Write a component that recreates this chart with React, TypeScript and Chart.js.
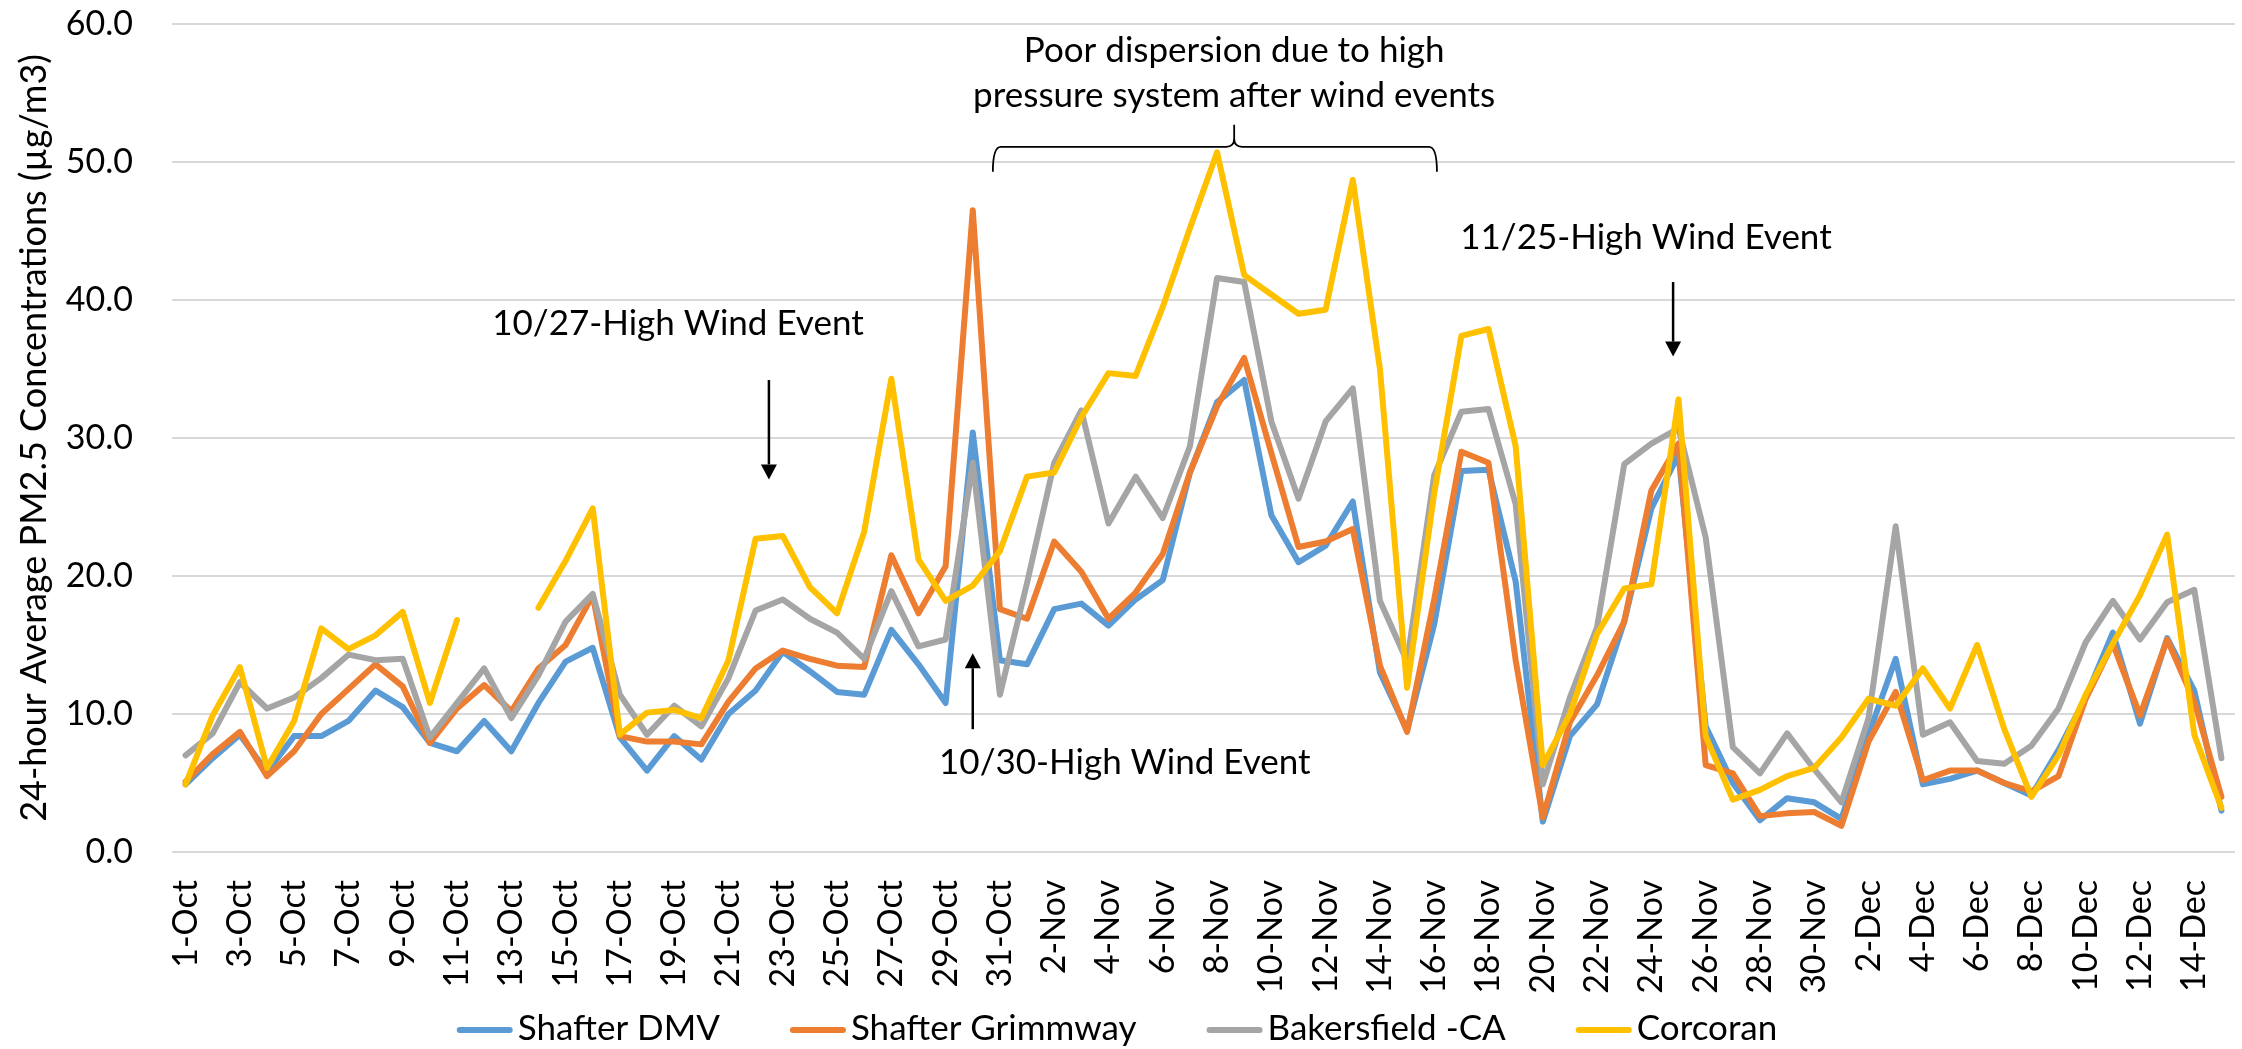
import React, { useEffect, useRef } from 'react';
import { Chart, registerables } from 'chart.js';

Chart.register(...registerables);

// ---- Categories (daily, 1-Oct .. 15-Dec) ----
const MONTHS: [string, number][] = [['Oct', 31], ['Nov', 30], ['Dec', 15]];
const DATES: string[] = MONTHS.flatMap(([m, n]) => Array.from({ length: n }, (_, i) => `${i + 1}-${m}`));

// ---- Series values (µg/m3) ----
const SHAFTER_DMV = [
  4.9, 6.8, 8.5, 5.8, 8.4, 8.4, 9.5, 11.7, 10.5, 7.9, 7.3, 9.5, 7.3, 10.8, 13.8, 14.8,
  8.3, 5.9, 8.4, 6.7, 10.0, 11.7, 14.5, 13.1, 11.6, 11.4, 16.1, 13.6, 10.8, 30.4, 13.9,
  13.6, 17.6, 18.0, 16.4, 18.3, 19.7, 27.5, 32.6, 34.2, 24.4, 21.0, 22.2, 25.4, 13.0, 8.8,
  16.5, 27.6, 27.7, 19.6, 2.2, 8.4, 10.7, 16.7, 24.9, 28.8, 9.1, 5.0, 2.3, 3.9, 3.6,
  2.4, 8.5, 14.0, 4.9, 5.3, 5.9, 5.0, 4.1, 7.4, 11.2, 15.9, 9.3, 15.5, 11.7, 3.0,
];
const SHAFTER_GRIMMWAY = [
  5.1, 7.1, 8.7, 5.5, 7.3, 10.0, 11.8, 13.6, 12.0, 7.9, 10.4, 12.1, 10.2, 13.3, 15.0, 18.6,
  8.4, 8.0, 8.0, 7.8, 10.9, 13.3, 14.6, 14.0, 13.5, 13.4, 21.5, 17.3, 20.7, 46.5, 17.6,
  16.9, 22.5, 20.3, 16.9, 18.8, 21.6, 27.5, 32.3, 35.8, 28.9, 22.1, 22.5, 23.4, 13.5, 8.7,
  18.3, 29.0, 28.2, 13.9, 2.5, 9.4, 12.8, 16.7, 26.2, 29.6, 6.3, 5.7, 2.6, 2.8, 2.9,
  1.9, 8.0, 11.6, 5.2, 5.9, 5.9, 5.0, 4.4, 5.5, 11.1, 15.1, 9.9, 15.4, 10.9, 4.0,
];
const BAKERSFIELD_CA = [
  7.0, 8.6, 12.3, 10.4, 11.2, 12.6, 14.3, 13.9, 14.0, 8.3, 10.8, 13.3, 9.7, 12.8, 16.7, 18.7,
  11.4, 8.5, 10.6, 9.1, 12.6, 17.5, 18.3, 16.9, 15.9, 14.0, 18.9, 14.9, 15.4, 28.2, 11.4,
  19.5, 28.2, 32.0, 23.8, 27.2, 24.2, 29.4, 41.6, 41.3, 31.2, 25.6, 31.2, 33.6, 18.2, 13.8,
  27.3, 31.9, 32.1, 25.2, 4.9, 11.2, 16.3, 28.1, 29.6, 30.7, 22.8, 7.6, 5.7, 8.6, 6.0,
  3.6, 9.7, 23.6, 8.5, 9.4, 6.6, 6.4, 7.7, 10.4, 15.2, 18.2, 15.4, 18.1, 19.0, 6.8,
];
const CORCORAN: (number | null)[] = [
  4.9, 9.9, 13.4, 6.1, 9.5, 16.2, 14.7, 15.7, 17.4, 10.8, 16.8, null, null, 17.7, 21.1, 24.9,
  8.5, 10.1, 10.3, 9.7, 13.9, 22.7, 22.9, 19.2, 17.3, 23.2, 34.3, 21.2, 18.2, 19.3, 21.8,
  27.2, 27.5, 31.5, 34.7, 34.5, 39.5, 45.2, 50.7, 41.8, 40.4, 39.0, 39.3, 48.7, 35.0, 11.9,
  26.0, 37.4, 37.9, 29.4, 6.3, 10.0, 15.8, 19.1, 19.4, 32.8, 8.4, 3.8, 4.5, 5.5, 6.1,
  8.3, 11.1, 10.6, 13.3, 10.4, 15.0, 8.9, 4.0, 7.0, 11.4, 15.1, 18.6, 23.0, 8.5, 3.2,
];

const SERIES_NAMES = ['Shafter DMV', 'Shafter Grimmway', 'Bakersfield -CA', 'Corcoran'];
const SERIES_COLORS = ['#5B9BD5', '#ED7D31', '#A5A5A5', '#FFC000'];

// ---- Y axis ----
const Y_MIN = 0;
const Y_MAX = 60;
const Y_STEP = 10;
const Y_TITLE = '24-hour Average PM2.5 Concentrations (µg/m3)';

// ---- Annotations (x = category index, y = value) ----
const NOTE_TEXTS = [
  { lines: ['10/27-High Wind Event'], x: 18.14, y: 37.5 },
  { lines: ['10/30-High Wind Event'], x: 34.6, y: 5.65 },
  { lines: ['11/25-High Wind Event'], x: 53.8, y: 43.7 },
  { lines: ['Poor dispersion due to high', 'pressure system after wind events'], x: 38.63, y: 57.25 },
];
const NOTE_ARROWS = [
  { x: 21.49, from: 34.2, to: 27.0 },
  { x: 29.0, from: 8.9, to: 14.4 },
  { x: 54.8, from: 41.3, to: 35.9 },
];
const NOTE_BRACE = { left: 29.74, right: 46.1, mid: 38.63, level: 51.1, ends: 49.3, tip: 52.7 };

const FONT = 'Lato, "Open Sans", sans-serif';

const annotationPlugin = {
  id: 'notes',
  afterDraw(chart: any) {
    const { ctx } = chart;
    const xs = chart.scales.x;
    const ys = chart.scales.y;
    const px = (v: number) => xs.left + ((v + 0.5) / DATES.length) * (xs.right - xs.left);
    const py = (v: number) => ys.getPixelForValue(v);
    ctx.save();
    ctx.fillStyle = '#000';
    ctx.strokeStyle = '#000';
    ctx.font = `35px ${FONT}`;
    ctx.textAlign = 'center';
    ctx.textBaseline = 'alphabetic';
    NOTE_TEXTS.forEach((t) => {
      t.lines.forEach((line, i) => ctx.fillText(line, px(t.x), py(t.y) + i * 45));
    });
    // arrows
    NOTE_ARROWS.forEach((a) => {
      const x = px(a.x);
      const y0 = py(a.from);
      const y1 = py(a.to);
      const dir = y1 > y0 ? 1 : -1;
      const head = 15;
      ctx.lineWidth = 2.5;
      ctx.beginPath();
      ctx.moveTo(x, y0);
      ctx.lineTo(x, y1 - dir * head);
      ctx.stroke();
      ctx.beginPath();
      ctx.moveTo(x, y1);
      ctx.lineTo(x - 8, y1 - dir * head);
      ctx.lineTo(x + 8, y1 - dir * head);
      ctx.closePath();
      ctx.fill();
    });
    // brace
    const b = NOTE_BRACE;
    const xl = px(b.left), xr = px(b.right), xm = px(b.mid);
    const yh = py(b.level), ye = py(b.ends), yt = py(b.tip);
    const r = 8;
    ctx.lineWidth = 1.8;
    ctx.beginPath();
    ctx.moveTo(xl, ye);
    ctx.quadraticCurveTo(xl, yh, xl + r, yh);
    ctx.lineTo(xm - r, yh);
    ctx.quadraticCurveTo(xm, yh, xm, yh - r);
    ctx.lineTo(xm, yt);
    ctx.moveTo(xm, yh - r);
    ctx.quadraticCurveTo(xm, yh, xm + r, yh);
    ctx.lineTo(xr - r, yh);
    ctx.quadraticCurveTo(xr, yh, xr, ye);
    ctx.stroke();
    ctx.restore();
  },
};

const legendPlugin = {
  id: 'bottomLegend',
  afterDraw(chart: any) {
    const { ctx } = chart;
    const datasets = chart.data.datasets;
    ctx.save();
    ctx.font = `35px ${FONT}`;
    const lineLen = 56;
    const textGap = 5;
    const itemGap = 70;
    const widths = datasets.map((d: any) => lineLen + textGap + ctx.measureText(d.label).width);
    const total = widths.reduce((a: number, w: number) => a + w, 0) + itemGap * (widths.length - 1);
    let x = chart.width / 2 - 4 - total / 2;
    const yLine = chart.height - 19;
    const yText = chart.height - 9;
    datasets.forEach((d: any, i: number) => {
      ctx.strokeStyle = d.borderColor;
      ctx.lineWidth = 6;
      ctx.lineCap = 'round';
      ctx.beginPath();
      ctx.moveTo(x + 3, yLine);
      ctx.lineTo(x + lineLen - 3, yLine);
      ctx.stroke();
      ctx.fillStyle = '#000';
      ctx.textAlign = 'left';
      ctx.textBaseline = 'alphabetic';
      ctx.fillText(d.label, x + lineLen + textGap, yText);
      x += widths[i] + itemGap;
    });
    ctx.restore();
  },
};

export default function App() {
  const ref = useRef<HTMLCanvasElement | null>(null);

  useEffect(() => {
    if (!ref.current) return;
    const seriesData = [SHAFTER_DMV, SHAFTER_GRIMMWAY, BAKERSFIELD_CA, CORCORAN];
    const chart = new Chart(ref.current, {
      type: 'line',
      data: {
        labels: DATES,
        datasets: seriesData.map((data, i) => ({
          label: SERIES_NAMES[i],
          data,
          borderColor: SERIES_COLORS[i],
          backgroundColor: SERIES_COLORS[i],
          order: seriesData.length - 1 - i,
        })),
      },
      options: {
        responsive: false,
        animation: false,
        spanGaps: false,
        layout: { padding: { left: 0, top: 24, right: 7, bottom: 0 } },
        elements: {
          point: { radius: 0, hoverRadius: 0 },
          line: { borderWidth: 6, tension: 0, borderJoinStyle: 'round', borderCapStyle: 'round', fill: false },
        },
        plugins: { legend: { display: false }, tooltip: { enabled: false } },
        scales: {
          x: {
            type: 'category',
            offset: true,
            grid: { display: false, drawTicks: false },
            border: { display: false },
            ticks: {
              autoSkip: false,
              minRotation: 90,
              maxRotation: 90,
              padding: 28,
              color: '#000',
              font: { family: FONT, size: 34 },
              callback: (_v: any, i: number) => (i % 2 === 0 ? DATES[i] : ''),
            },
            afterFit: (s: any) => {
              s.height = 197;
              s.paddingLeft = 0;
              s.paddingRight = 0;
            },
          },
          y: {
            min: Y_MIN,
            max: Y_MAX,
            ticks: {
              stepSize: Y_STEP,
              padding: 39,
              color: '#000',
              font: { family: FONT, size: 34 },
              callback: (v: any) => Number(v).toFixed(1),
            },
            grid: { color: '#D9D9D9', lineWidth: 2, drawTicks: false },
            border: { display: false },
            title: {
              display: true,
              text: Y_TITLE,
              color: '#000',
              font: { family: FONT, size: 36 },
              padding: { top: 13, bottom: 0 },
            },
            afterFit: (s: any) => {
              s.width = 172;
              s.paddingTop = 0;
              s.paddingBottom = 0;
            },
          },
        },
      } as any,
      plugins: [annotationPlugin, legendPlugin],
    });
    return () => chart.destroy();
  }, []);

  return (
    <div style={{ position: 'fixed', left: 0, top: 0, width: 2242, height: 1049, background: '#fff' }}>
      <canvas ref={ref} width={2242} height={1049} style={{ display: 'block' }} />
    </div>
  );
}
